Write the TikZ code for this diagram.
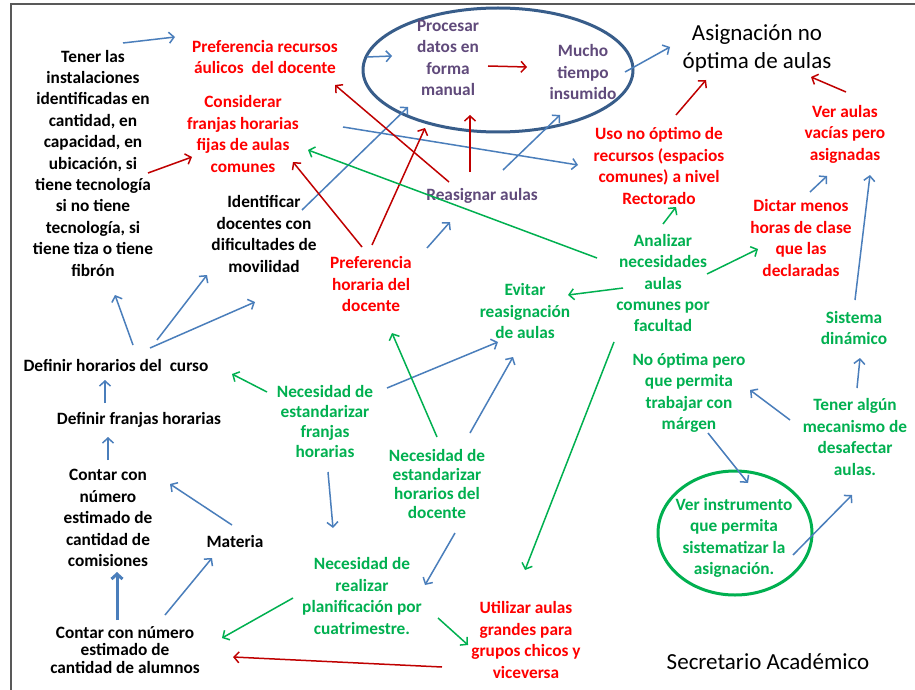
\documentclass[tikz,border=0pt]{standalone}
\usepackage{fontspec}
\setmainfont{Carlito}
\usetikzlibrary{arrows.meta,shapes.geometric}
\definecolor{txtred}{RGB}{255,0,0}
\definecolor{arrred}{RGB}{192,0,0}
\definecolor{arrblue}{RGB}{74,126,187}
\definecolor{grn}{RGB}{0,176,80}
\definecolor{navy}{RGB}{56,93,138}
\definecolor{plum}{RGB}{96,74,123}
\definecolor{framegray}{RGB}{89,89,89}
\begin{document}
\begin{tikzpicture}[x=1pt,y=-1pt,
  lbl/.style={align=center, inner sep=0pt, font=\fontsize{17.3}{21.4}\selectfont\bfseries},
  blk/.style={lbl,text=black},
  rd/.style={lbl,text=txtred},
  gr/.style={lbl,text=grn},
  pu/.style={lbl,text=plum},
  big/.style={align=center,inner sep=0pt,font=\fontsize{23}{28}\selectfont},
  arr/.style={line width=1.5pt,-{Straight Barb[length=5pt,width=11pt]}},
  ba/.style={arr,draw=arrblue},
  ra/.style={arr,draw=arrred},
  ga/.style={arr,draw=grn},
]
\useasboundingbox (0,0) rectangle (915,690);
\fill[white] (0,0) rectangle (915,690);
% frame
\draw[framegray, line width=2.5pt] (11,690) -- (11,4) -- (915,4);

% ---- groups (ellipses)
\node[draw=navy, line width=3pt, ellipse, minimum width=270, minimum height=124, inner sep=0pt] (grp) at (498,70) {};
\node[draw=grn, line width=3pt, ellipse, minimum width=154, minimum height=124, inner sep=0pt] (verell) at (735,533) {};

% ---- labels
\node[blk] (tener) at (93,163) {Tener las\\ instalaciones\\ identificadas en\\ cantidad, en\\ capacidad, en\\ ubicación, si\\ tiene tecnología\\ si no tiene\\ tecnología, si\\ tiene tiza o tiene\\ fibrón};
\node[rd] (prefrec) at (265,57) {Preferencia recursos\\ áulicos \ del docente};
\node[rd] (consid) at (243,134) {Considerar\\ franjas horarias\\ fijas de aulas\\ comunes};
\node[pu] (proc) at (448,58) {Procesar\\ datos en\\ forma\\ manual};
\node[pu] (mucho) at (583,72) {Mucho\\ tiempo\\ insumido};
\node[big] (asig) at (757,48) {Asignación no\\ óptima de aulas};
\node[rd] (uso) at (659,166) {Uso no óptimo de\\ recursos (espacios\\ comunes) a nivel\\ Rectorado};
\node[rd] (veraulas) at (845,134) {Ver aulas\\ vacías pero\\ asignadas};
\node[pu] (reasig) at (482,196) {Reasignar aulas};
\node[blk] (ident) at (264,234) {Identificar\\ docentes con\\ dificultades de\\ movilidad};
\node[rd] (prefhor) at (371,284) {Preferencia\\ horaria del\\ docente};
\node[gr] (analiz) at (663,283) {Analizar\\ necesidades\\ aulas\\ comunes por\\ facultad};
\node[rd] (dictar) at (801,238) {Dictar menos\\ horas de clase\\ que las\\ declaradas};
\node[gr] (evitar) at (525,311) {Evitar\\ reasignación\\ de aulas};
\node[gr] (sist) at (854,328) {Sistema\\ dinámico};
\node[blk] (defhor) at (116,365) {Definir horarios del \ curso};
\node[gr] (nooptima) at (689,393) {No óptima pero\\ que permita\\ trabajar con\\ márgen};
\node[gr, font=\fontsize{17.3}{20}\selectfont\bfseries] (necfran) at (325,421) {Necesidad de\\ estandarizar\\ franjas\\ horarias};
\node[gr] (tener2) at (855,437) {Tener algún\\ mecanismo de\\ desafectar\\ aulas.};
\node[blk] (deffran) at (139,420) {Definir franjas horarias};
\node[gr, font=\fontsize{17.3}{19.2}\selectfont\bfseries] (nechor) at (437,484) {Necesidad de\\ estandarizar\\ horarios del\\ docente};
\node[blk] (contcom) at (108,518) {Contar con\\ número\\ estimado de\\ cantidad de\\ comisiones};
\node[blk] (materia) at (235,541) {Materia};
\node[gr] (verinst) at (734,538) {Ver instrumento\\ que permita\\ sistematizar la\\ asignación.};
\node[gr] (necplan) at (362,596) {Necesidad de\\ realizar\\ planificación por\\ cuatrimestre.};
\node[rd] (utiliz) at (526,640) {Utilizar aulas\\ grandes para\\ grupos chicos y\\ viceversa};
\node[blk, font=\fontsize{17.3}{17.3}\selectfont\bfseries] (contalu) at (125,650) {Contar con número\\ estimado de\\ cantidad de alumnos};
\node[big] (secret) at (768,662) {Secretario Académico};

% ---- connector end points
\coordinate (tp1) at (123,43);  \coordinate (tp2) at (175,37);
\coordinate (pg1) at (367,57);  \coordinate (pg2) at (392,56);
\coordinate (ga1) at (625,72);  \coordinate (ga2) at (670,47);
\coordinate (ig1) at (302,210); \coordinate (ig2) at (408,107);
\coordinate (cu1) at (343,127); \coordinate (cu2) at (578,165);
\coordinate (rg1) at (503,170); \coordinate (rg2) at (560,115);
\coordinate (pr1) at (427,248); \coordinate (pr2) at (450,222);
\coordinate (dt1) at (133,345); \coordinate (dt2) at (115,295);
\coordinate (di1) at (157,340); \coordinate (di2) at (207,275);
\coordinate (dp1) at (150,348); \coordinate (dp2) at (255,302);
\coordinate (fh1) at (105,403); \coordinate (fh2) at (105,380);
\coordinate (cf1) at (108,460); \coordinate (cf2) at (108,437);
\coordinate (mc1) at (232,525); \coordinate (mc2) at (170,484);
\coordinate (ac1) at (117,620); \coordinate (ac2) at (117,572);
\coordinate (am1) at (165,615); \coordinate (am2) at (212,558);
\coordinate (ne1) at (387,388); \coordinate (ne2) at (498,342);
\coordinate (he1) at (470,433); \coordinate (he2) at (513,357);
\coordinate (np1) at (328,472); \coordinate (np2) at (333,528);
\coordinate (hp1) at (455,533); \coordinate (hp2) at (425,585);
\coordinate (tn1) at (790,420); \coordinate (tn2) at (750,390);
\coordinate (nv1) at (708,433); \coordinate (nv2) at (748,483);
\coordinate (vt1) at (793,555); \coordinate (vt2) at (852,495);
\coordinate (ts1) at (857,388); \coordinate (ts2) at (860,358);
\coordinate (sv1) at (855,300); \coordinate (sv2) at (870,175);
\coordinate (dv1) at (810,192); \coordinate (dv2) at (827,176);

\coordinate (tc1) at (148,173); \coordinate (tc2) at (192,157);
\coordinate (pm1) at (488,66);  \coordinate (pm2) at (527,67);
\coordinate (rp1) at (449,182); \coordinate (rp2) at (335,85);
\coordinate (rq1) at (470,172); \coordinate (rq2) at (470,115);
\coordinate (hc1) at (362,247); \coordinate (hc2) at (293,162);
\coordinate (hg1) at (372,245); \coordinate (hg2) at (425,128);
\coordinate (ua1) at (676,115); \coordinate (ua2) at (706,80);
\coordinate (va1) at (846,92);  \coordinate (va2) at (811,77);
\coordinate (uc1) at (442,667); \coordinate (uc2) at (233,657);

\coordinate (an1) at (597,258); \coordinate (an2) at (308,150);
\coordinate (au1) at (663,224); \coordinate (au2) at (676,207);
\coordinate (ad1) at (707,274); \coordinate (ad2) at (758,249);
\coordinate (ae1) at (623,288); \coordinate (ae2) at (568,295);
\coordinate (at1) at (614,342); \coordinate (at2) at (525,570);
\coordinate (fd1) at (267,392); \coordinate (fd2) at (232,374);
\coordinate (hh1) at (437,437); \coordinate (hh2) at (392,333);
\coordinate (pa1) at (293,598); \coordinate (pa2) at (222,638);
\coordinate (pu1) at (438,618); \coordinate (pu2) at (468,645);

% ---- blue connectors
\draw[ba] (tp1) -- (tp2);
\draw[ba] (pg1) -- (pg2);
\draw[ba] (ga1) -- (ga2);
\draw[ba] (ig1) -- (ig2);
\draw[ba] (cu1) -- (cu2);
\draw[ba] (rg1) -- (rg2);
\draw[ba] (pr1) -- (pr2);
\draw[ba] (dt1) -- (dt2);
\draw[ba] (di1) -- (di2);
\draw[ba] (dp1) -- (dp2);
\draw[ba] (fh1) -- (fh2);
\draw[ba] (cf1) -- (cf2);
\draw[ba] (mc1) -- (mc2);
\draw[ba, line width=3pt] (ac1) -- (ac2);
\draw[ba] (am1) -- (am2);
\draw[ba] (ne1) -- (ne2);
\draw[ba] (he1) -- (he2);
\draw[ba] (np1) -- (np2);
\draw[ba] (hp1) -- (hp2);
\draw[ba] (tn1) -- (tn2);
\draw[ba] (nv1) -- (nv2);
\draw[ba] (vt1) -- (vt2);
\draw[ba] (ts1) -- (ts2);
\draw[ba] (sv1) -- (sv2);
\draw[ba] (dv1) -- (dv2);

% ---- red connectors
\draw[ra] (tc1) -- (tc2);
\draw[ra] (pm1) -- (pm2);
\draw[ra] (rp1) -- (rp2);
\draw[ra] (rq1) -- (rq2);
\draw[ra] (hc1) -- (hc2);
\draw[ra] (hg1) -- (hg2);
\draw[ra] (ua1) -- (ua2);
\draw[ra] (va1) -- (va2);
\draw[ra] (uc1) -- (uc2);

% ---- green connectors
\draw[ga] (an1) -- (an2);
\draw[ga] (au1) -- (au2);
\draw[ga] (ad1) -- (ad2);
\draw[ga] (ae1) -- (ae2);
\draw[ga] (at1) -- (at2);
\draw[ga] (fd1) -- (fd2);
\draw[ga] (hh1) -- (hh2);
\draw[ga] (pa1) -- (pa2);
\draw[ga] (pu1) -- (pu2);
\end{tikzpicture}
\end{document}
